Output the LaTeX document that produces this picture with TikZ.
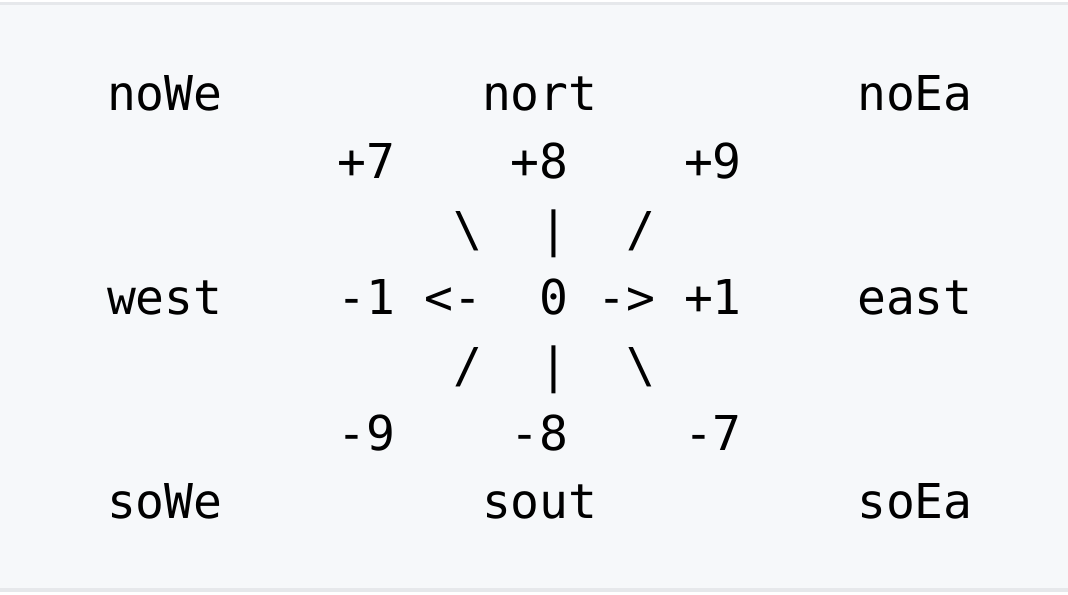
\documentclass[tikz,border=0pt]{standalone}
\usepackage{fontspec}
\newfontfamily\codefont{DejaVu Sans Mono}
\definecolor{codebg}{HTML}{F6F8FA}
\definecolor{codeline}{HTML}{E6E8EB}
\begin{document}
\begin{tikzpicture}[x=0.75pt,y=-0.75pt,
  tok/.style={anchor=base west, inner sep=0pt, outer sep=0pt,
    font=\codefont\fontsize{36}{40}\selectfont, text=black}]
\useasboundingbox (0,0) rectangle (1068,594);
\fill[white] (0,0) rectangle (1068,594);
\fill[codebg] (0,5) rectangle (1068,588);
\fill[codeline] (0,2) rectangle (1068,5);
\fill[codeline] (0,588) rectangle (1068,592);
% line 1
\node[tok] (noWe) at (107+0*28.85,110) {noWe};
\node[tok] (nort) at (107+13*28.85,110) {nort};
\node[tok] (noEa) at (107+26*28.85,110) {noEa};
% line 2
\node[tok] (p7) at (107+8*28.85,178) {+7};
\node[tok] (p8) at (107+14*28.85,178) {+8};
\node[tok] (p9) at (107+20*28.85,178) {+9};
% line 3
\node[tok] (bsA) at (107+12*28.85,246) {\textbackslash};
\node[tok] (barA) at (107+15*28.85,246) {|};
\node[tok] (slA) at (107+18*28.85,246) {/};
% line 4
\node[tok] (west) at (107+0*28.85,314) {west};
\node[tok] (m1) at (107+8*28.85,314) {-1};
\node[tok] (larr) at (107+11*28.85,314) {<-};
\node[tok] (zero) at (107+15*28.85,314) {0};
\node[tok] (rarr) at (107+17*28.85,314) {->};
\node[tok] (p1) at (107+20*28.85,314) {+1};
\node[tok] (east) at (107+26*28.85,314) {east};
% line 5
\node[tok] (slB) at (107+12*28.85,382) {/};
\node[tok] (barB) at (107+15*28.85,382) {|};
\node[tok] (bsB) at (107+18*28.85,382) {\textbackslash};
% line 6
\node[tok] (m9) at (107+8*28.85,450) {-9};
\node[tok] (m8) at (107+14*28.85,450) {-8};
\node[tok] (m7) at (107+20*28.85,450) {-7};
% line 7
\node[tok] (soWe) at (107+0*28.85,518) {soWe};
\node[tok] (sout) at (107+13*28.85,518) {sout};
\node[tok] (soEa) at (107+26*28.85,518) {soEa};
\end{tikzpicture}
\end{document}
